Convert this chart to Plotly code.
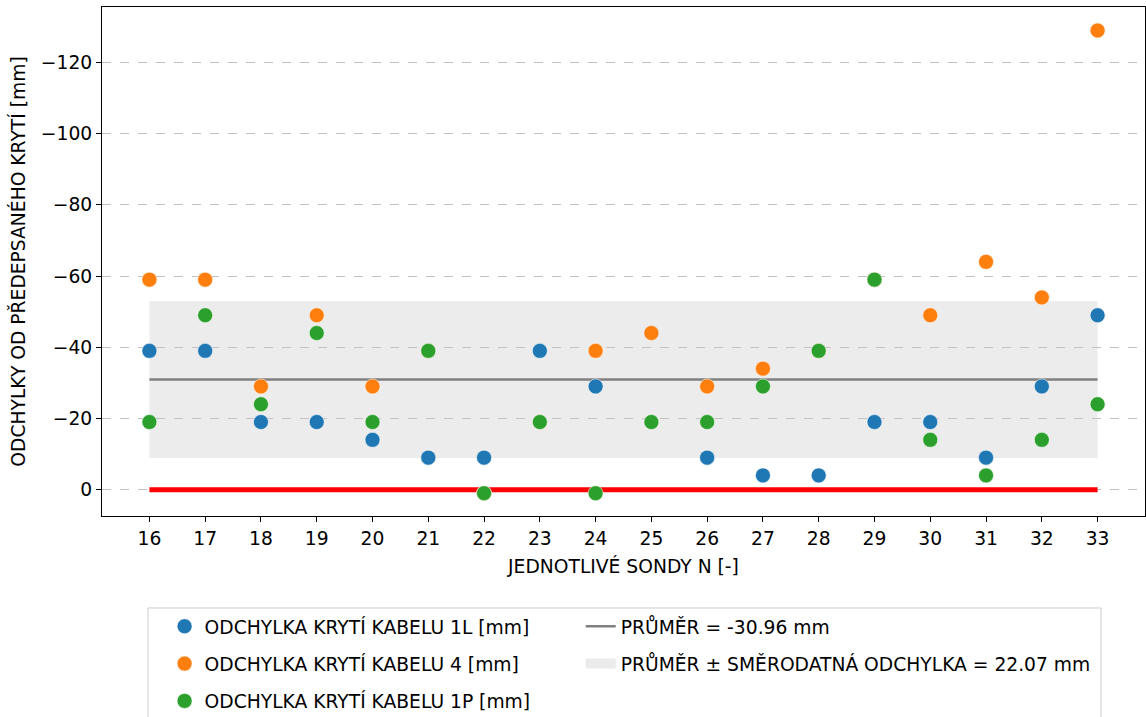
import plotly.graph_objects as go

# ---- data ----
SONDY = [16, 17, 18, 19, 20, 21, 22, 23, 24, 25, 26, 27, 28, 29, 30, 31, 32, 33]
KABEL_1L = [-39, -39, -19, -19, -14, -9, -9, -39, -29, -44, -9, -4, -4, -19, -19, -9, -29, -49]
KABEL_4 = [-59, -59, -29, -49, -29, -39, 1, -19, -39, -44, -29, -34, -39, -59, -49, -64, -54, -129]
KABEL_1P = [-19, -49, -24, -44, -19, -39, 1, -19, 1, -19, -19, -29, -39, -59, -14, -4, -14, -24]
PRUMER = -30.96
SMERODATNA = 22.07
Y_TICKS = [-120, -100, -80, -60, -40, -20, 0]

NAMES = ["ODCHYLKA KRYTÍ KABELU 1L [mm]", "ODCHYLKA KRYTÍ KABELU 4 [mm]", "ODCHYLKA KRYTÍ KABELU 1P [mm]"]
COLORS = ["#1f77b4", "#ff7f0e", "#2ca02c"]
FONT = "DejaVu Sans"
FS = 18.7

fig = go.Figure()

x0, x1 = SONDY[0], SONDY[-1]
lo, hi = PRUMER - SMERODATNA, PRUMER + SMERODATNA

# band
fig.add_trace(go.Scatter(
    x=[x0, x1, x1, x0, x0], y=[lo, lo, hi, hi, lo], mode="lines", fill="toself",
    fillcolor="rgba(200,200,200,0.35)", line=dict(width=0, color="rgba(0,0,0,0)"),
    showlegend=False, hoverinfo="skip"))
# legend swatch for band
fig.add_trace(go.Scatter(
    x=[None], y=[None], mode="lines", line=dict(color="#ebebeb", width=20),
    name=f"PRŮMĚR ± SMĚRODATNÁ ODCHYLKA = {SMERODATNA:.2f} mm",
    legend="legend2", legendgroup="band", legendrank=2))
# mean line
fig.add_trace(go.Scatter(
    x=[x0, x1], y=[PRUMER, PRUMER], mode="lines", line=dict(color="#808080", width=2.5),
    name=f"PRŮMĚR = {PRUMER:.2f} mm", legend="legend2", legendgroup="mean", legendrank=1))
# zero red line
fig.add_trace(go.Scatter(
    x=[x0, x1], y=[0, 0], mode="lines", line=dict(color="#ff0000", width=5),
    showlegend=False))

for vals, name, col, grp in zip([KABEL_1L, KABEL_4, KABEL_1P], NAMES, COLORS, ["a", "b", "c"]):
    fig.add_trace(go.Scatter(
        x=SONDY, y=vals, mode="markers", name=name, legendgroup=grp,
        marker=dict(size=15, color=col, line=dict(width=1, color="rgba(255,255,255,0.55)")),
        legend="legend"))

# legend box
fig.add_shape(type="rect", xref="paper", yref="paper",
              x0=0.0441, x1=0.9578, y0=-0.45, y1=-0.1807,
              line=dict(color="#cccccc", width=1), fillcolor="rgba(0,0,0,0)", layer="below")

fig.update_layout(
    width=1146, height=717,
    margin=dict(l=102, r=1, t=7, b=201, autoexpand=False),
    plot_bgcolor="white", paper_bgcolor="white",
    font=dict(family=FONT, size=FS, color="black"),
    showlegend=True,
    legend=dict(x=0.060, y=-0.18, xanchor="left", yanchor="top", bgcolor="rgba(0,0,0,0)",
                font=dict(family=FONT, size=FS), traceorder="grouped", tracegroupgap=10,
                borderwidth=0),
    legend2=dict(x=0.459, y=-0.18, xanchor="left", yanchor="top", bgcolor="rgba(0,0,0,0)",
                 font=dict(family=FONT, size=FS), traceorder="grouped", tracegroupgap=10,
                 borderwidth=0),
    xaxis=dict(range=[15.15, 33.85], tickmode="array", tickvals=SONDY, automargin=False,
               ticks="outside", ticklen=5, tickcolor="black", showgrid=False, zeroline=False,
               showline=True, linecolor="black", linewidth=1.2, mirror=True,
               title=dict(text="JEDNOTLIVÉ SONDY N [-]", font=dict(size=FS), standoff=12),
               tickfont=dict(size=FS)),
    yaxis=dict(range=[7.4, -135.6], tickmode="array", tickvals=Y_TICKS, automargin=False,
               ticks="outside", ticklen=5, tickcolor="black", showgrid=True,
               gridcolor="#c0c0c0", griddash="dash", gridwidth=1, zeroline=False,
               showline=True, linecolor="black", linewidth=1.2, mirror=True,
               title=dict(text="ODCHYLKY OD PŘEDEPSANÉHO KRYTÍ [mm]", font=dict(size=FS), standoff=10),
               tickfont=dict(size=FS)),
)

fig.write_html("out.html", config={"displayModeBar": False},
               post_script="document.body.style.margin='0';document.body.style.overflow='hidden';")
